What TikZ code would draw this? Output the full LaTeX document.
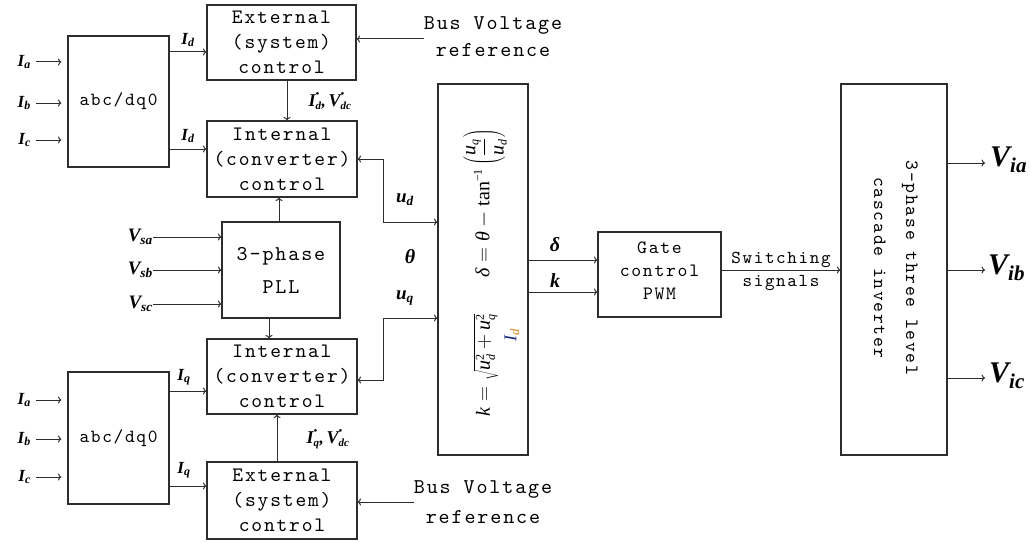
\documentclass[tikz,border=0pt]{standalone}
\usepackage{fontspec}
\usetikzlibrary{arrows.meta}
\newfontfamily\serf{Liberation Serif}
\newfontfamily\monof{lmmono10-regular.otf}[LetterSpace=9]
\definecolor{linec}{RGB}{45,45,45}
\definecolor{idblue}{RGB}{25,45,130}
\definecolor{idorange}{RGB}{215,125,25}
\newcommand\lb[3]{{\fontsize{#1}{#1}\selectfont\serf\bfseries\itshape #2\textsubscript{#3}}}
\newcommand\bi[2]{\hbox{\fontsize{#1}{#1}\selectfont\serf\bfseries\itshape #2}}
\newcommand\lbs[3]{$\bi{18}{#2}^{\hbox{\fontsize{11}{11}\selectfont\serf •}}_{\bi{11}{#3}}$}
\newcommand\mt[2]{\fontsize{#1}{#2}\selectfont\monof}
\newcommand\si[1]{\hbox{\serf\itshape #1}}
\newcommand\ssi[1]{\hbox{\fontsize{12}{12}\selectfont\serf\itshape #1}}
\newcommand\ssu[1]{\hbox{\fontsize{12}{12}\selectfont\serf #1}}
\begin{document}
\begin{tikzpicture}[x=1pt,y=-1pt,
  blk/.style={draw=linec,line width=1.1pt,inner sep=0pt,align=center,text=black},
  arr/.style={draw=linec,line width=1pt,-{To[length=3.5pt,width=7pt]}},
  darr/.style={draw=linec,line width=1pt,{To[length=3.5pt,width=7pt]}-{To[length=3.5pt,width=7pt]}},
  lab/.style={inner sep=0pt}]
\useasboundingbox (0,0) rectangle (1031,543);
% blocks
\node[blk,minimum width=101pt,minimum height=131pt,font=\mt{18.5}{24}] (abc1) at (118.5,101.5) {abc/dq0};
\node[blk,minimum width=149pt,minimum height=75pt,font=\mt{20.5}{25}] (ext1) at (281.5,42.5) {External\\(system)\\control};
\node[blk,minimum width=150pt,minimum height=76pt,font=\mt{20.5}{25}] (int1) at (282,159) {Internal\\(converter)\\control};
\node[blk,minimum width=118pt,minimum height=96pt,font=\mt{21}{33}] (pll) at (281,270) {3-phase\\PLL};
\node[blk,minimum width=150pt,minimum height=75pt,font=\mt{20.5}{25}] (int2) at (282,376.5) {Internal\\(converter)\\control};
\node[blk,minimum width=150pt,minimum height=77pt,font=\mt{20.5}{25}] (ext2) at (282,500.5) {External\\(system)\\control};
\node[blk,minimum width=101pt,minimum height=132pt,font=\mt{18.5}{24}] (abc2) at (118.5,438) {abc/dq0};
\node[blk,minimum width=90pt,minimum height=371pt] (big) at (483,269.5) {};
\node[blk,minimum width=123pt,minimum height=85pt] (gate) at (659.5,274.5) {};
\node[lab,align=center,font=\mt{18.8}{23}] (gatet) at (659.5,271) {Gate\\control\\PWM};
\node[blk,minimum width=106pt,minimum height=371pt] (inv) at (894,269.5) {};
\node[lab,rotate=-90,align=center,font=\mt{18.8}{32}] (invt) at (896,268) {3-phase three level\\cascade inverter};
% equations
\node[lab,rotate=90,font=\fontsize{20}{24}\selectfont] (eq1) at (485,203) {$\si{δ}=\si{θ}-\hbox{\serf tan}^{\ssu{−1}}\left(\displaystyle\frac{\si{u}_{\ssi{q}}}{\si{u}_{\ssi{d}}}\vrule height 1.05em depth 0.85em width 0pt\right)$};
\node[lab,rotate=90,font=\fontsize{20}{24}\selectfont] (eq2) at (486,365) {$\si{k}=\sqrt{\si{u}^{\ssu{2}}_{\ssi{d}}+\si{u}^{\ssu{2}}_{\ssi{q}}}$};
\node[lab,rotate=90] (eqid) at (512,335) {{\fontsize{18}{18}\selectfont\serf\itshape\color{idblue}I\textsubscript{\color{idorange}d}}};
% text nodes
\node[lab,align=center,font=\mt{21}{27}] (bus1) at (493,37) {Bus Voltage\\reference};
\node[lab,align=center,font=\mt{21}{30}] (bus2) at (483,502.5) {Bus Voltage\\reference};
\node[lab,align=center,font=\mt{18.2}{23}] (sw) at (781,271) {Switching\\signals};
% input labels
\node[lab,anchor=east] (ia1) at (31,62) {\lb{17}{I}{a}};
\node[lab,anchor=east] (ib1) at (31,103) {\lb{17}{I}{b}};
\node[lab,anchor=east] (ic1) at (31,140) {\lb{17}{I}{c}};
\node[lab,anchor=east] (ia2) at (31,400) {\lb{17}{I}{a}};
\node[lab,anchor=east] (ib2) at (31,439) {\lb{17}{I}{b}};
\node[lab,anchor=east] (ic2) at (31,477) {\lb{17}{I}{c}};
\node[lab,anchor=east] (vsa) at (153,237) {\lb{19}{V}{sa}};
\node[lab,anchor=east] (vsb) at (153,270) {\lb{19}{V}{sb}};
\node[lab,anchor=east] (vsc) at (153,304) {\lb{19}{V}{sc}};
\node[lab] (id1) at (188,40) {\lb{17}{I}{d}};
\node[lab] (id2) at (188,136) {\lb{17}{I}{d}};
\node[lab] (iq1) at (184,377) {\lb{17}{I}{q}};
\node[lab] (iq2) at (184,470) {\lb{17}{I}{q}};
\node[lab] (idref) at (330,101) {\lbs{17}{I}{d}\bi{17}{,\,}\lbs{17}{V}{dc}};
\node[lab] (iqref) at (328,439) {\lbs{17}{I}{q}\bi{17}{,\,}\lbs{17}{V}{dc}};
\node[lab] (ud) at (405,200) {\lb{19}{u}{d}};
\node[lab] (th) at (410,257) {{\fontsize{20}{20}\selectfont\serf\bfseries\itshape θ}};
\node[lab] (uq) at (405,298) {\lb{19}{u}{q}};
\node[lab] (dl) at (555,245) {{\fontsize{20}{20}\selectfont\serf\bfseries\itshape δ}};
\node[lab] (kk) at (555,281) {{\fontsize{20}{20}\selectfont\serf\bfseries\itshape k}};
\node[lab,anchor=west] (via) at (990,160) {\lb{30}{V}{ia}};
\node[lab,anchor=west] (vib) at (988,268) {\lb{30}{V}{ib}};
\node[lab,anchor=west] (vic) at (989,376) {\lb{30}{V}{ic}};
% helper coordinates
\coordinate (y52) at (0,52); \coordinate (y149) at (0,149);
\coordinate (y391) at (0,391); \coordinate (y486) at (0,486);
\coordinate (y39) at (0,39); \coordinate (y502) at (0,502);
\coordinate (x287) at (287,0); \coordinate (x277) at (277,0);
\coordinate (x279) at (279,0); \coordinate (x269) at (269,0);
\coordinate (y380) at (0,380);
\coordinate (udc) at (383,222); \coordinate (uqc) at (383,318);
\coordinate (y260) at (0,260); \coordinate (y292) at (0,292); \coordinate (y270) at (0,270);
\coordinate (oa) at (985,163); \coordinate (ob) at (985,270); \coordinate (oc) at (985,378);
% connectors
\foreach \n in {ia1,ib1,ic1}{\draw[arr,shorten <=5pt,shorten >=6pt] (\n.east) -- (abc1.west |- \n.east);}
\foreach \n in {ia2,ib2,ic2}{\draw[arr,shorten <=5pt,shorten >=6pt] (\n.east) -- (abc2.west |- \n.east);}
\foreach \n in {vsa,vsb,vsc}{\draw[arr] (\n.east) -- (pll.west |- \n.east);}
\draw[arr] (abc1.east |- y52) -- (ext1.west |- y52);
\draw[arr] (abc1.east |- y149) -- (int1.west |- y149);
\draw[arr] (abc2.east |- y391) -- (int2.west |- y391);
\draw[arr] (abc2.east |- y486) -- (ext2.west |- y486);
\draw[arr] (ext1.south -| x287) -- (int1.north -| x287);
\draw[arr] (ext2.north -| x277) -- (int2.south -| x277);
\draw[arr] (pll.north -| x279) -- (int1.south -| x279);
\draw[arr] (pll.south -| x269) -- (int2.north -| x269);
\draw[arr] (bus1.west |- y39) -- (ext1.east |- y39);
\draw[arr] (bus2.west |- y502) -- (ext2.east |- y502);
\draw[darr] (int1.east) -| (udc) -- (big.west |- udc);
\draw[darr] (int2.east |- y380) -| (uqc) -- (big.west |- uqc);
\draw[arr] (big.east |- y260) -- (gate.west |- y260);
\draw[arr] (big.east |- y292) -- (gate.west |- y292);
\draw[arr] (gate.east |- y270) -- (inv.west |- y270);
\draw[arr] (inv.east |- oa) -- (oa);
\draw[arr] (inv.east |- ob) -- (ob);
\draw[arr] (inv.east |- oc) -- (oc);
\end{tikzpicture}
\end{document}
